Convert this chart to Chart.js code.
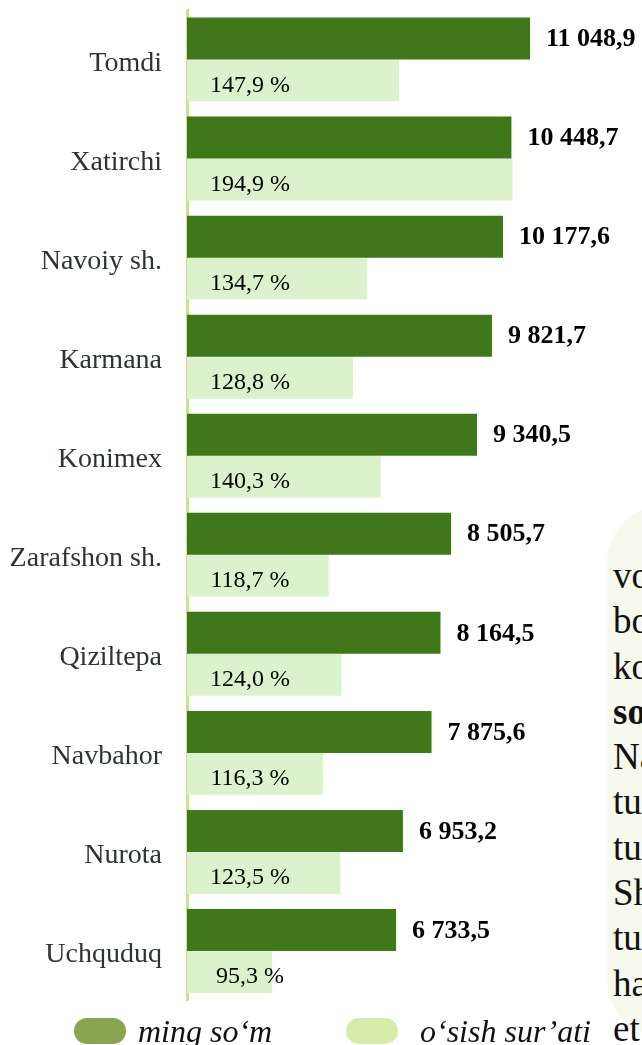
<!DOCTYPE html>
<html>
<head>
<meta charset="utf-8">
<script src="https://cdn.jsdelivr.net/npm/chart.js@4/dist/chart.umd.min.js"></script>
<style>
  html, body { margin: 0; padding: 0; background: #fff; overflow: hidden; }
  #wrap { position: relative; width: 642px; height: 1045px; }
  #chartBox { position: absolute; left: 0; top: 0; width: 642px; height: 1045px; }
  #legend { position: absolute; left: 0; top: 1018px; width: 642px; height: 30px;
    font-family: "Liberation Serif", "Times New Roman", serif; font-style: italic; font-size: 32px; color: #111; }
  #legend .pill { position: absolute; top: 0; width: 52px; height: 26px; border-radius: 13px; }
  #legend .txt { position: absolute; top: -7px; line-height: 40px; white-space: nowrap; }
  #side { position: absolute; left: 607px; top: 505px; width: 120px; height: 532px;
    background: #f6f9ec; border-radius: 58px; }
  #sideText { position: absolute; left: 613px; top: 553px; width: 100px;
    font-family: "Liberation Serif", "Times New Roman", serif; font-size: 37px; line-height: 45.3px; color: #111; }
</style>
</head>
<body>
<div id="wrap">
  <div id="side"></div>
  <div id="sideText">vo<br>bo<br>ko<br><b>so</b><br>Na<br>tu<br>tu<br>Sh<br>tu<br>ha<br>et</div>
  <div id="chartBox"><canvas id="barChart"></canvas></div>
  <div id="legend"></div>
</div>
<script>
const categories = ['Tomdi', 'Xatirchi', 'Navoiy sh.', 'Karmana', 'Konimex',
  'Zarafshon sh.', 'Qiziltepa', 'Navbahor', 'Nurota', 'Uchquduq'];
const mingSom = [11048.9, 10448.7, 10177.6, 9821.7, 9340.5, 8505.7, 8164.5, 7875.6, 6953.2, 6733.5];
const osishSurati = [147.9, 194.9, 134.7, 128.8, 140.3, 118.7, 124.0, 116.3, 123.5, 95.3];
const seriesNames = ['ming so‘m', 'o‘sish sur’ati'];

const darkGreen = '#40771a';
const lightGreen = '#dbf2cc';
const legendColors = ['#89a54f', '#d6ecaa'];

function fmt(v) {
  const parts = v.toFixed(1).split('.');
  const int = parts[0].replace(/\B(?=(\d{3})+(?!\d))/g, ' ');
  return int + ',' + parts[1];
}

const labelPlugin = {
  id: 'barLabels',
  afterDatasetsDraw(chart) {
    const ctx = chart.ctx;
    ctx.save();
    ctx.fillStyle = '#000';
    ctx.textBaseline = 'middle';

    const m0 = chart.getDatasetMeta(0);
    ctx.font = 'bold 26px "Liberation Serif"';
    ctx.textAlign = 'left';
    m0.data.forEach((bar, i) => {
      ctx.fillText(fmt(mingSom[i]), bar.x + 16, bar.y + 1);
    });

    const m1 = chart.getDatasetMeta(1);
    ctx.font = '24px "Liberation Serif"';
    ctx.textAlign = 'center';
    m1.data.forEach((bar, i) => {
      ctx.fillText(fmt(osishSurati[i]) + ' %', chart.chartArea.left + 63, bar.y + 5);
    });
    ctx.restore();
  }
};

let barChart;

function createChart() {
  const ctx = document.getElementById('barChart').getContext('2d');
  barChart = new Chart(ctx, {
    type: 'bar',
    data: {
      labels: categories,
      datasets: [{
        label: seriesNames[0],
        data: mingSom,
        backgroundColor: darkGreen,
        xAxisID: 'x'
      }, {
        label: seriesNames[1],
        data: osishSurati,
        backgroundColor: lightGreen,
        xAxisID: 'x2'
      }]
    },
    options: {
      indexAxis: 'y',
      responsive: true,
      maintainAspectRatio: false,
      animation: false,
      categoryPercentage: 0.848,
      barPercentage: 1,
      layout: { padding: { top: 10, right: 11, bottom: 44.5, left: 0 } },
      plugins: {
        legend: { display: false },
        tooltip: { enabled: false }
      },
      scales: {
        x: { display: false, min: 0, max: 14300 },
        x2: { display: false, min: 60, max: 244 },
        y: {
          grid: { display: false, drawTicks: false },
          border: { display: true, color: '#c8e38a', width: 3 },
          ticks: {
            padding: 25,
            labelOffset: 4,
            color: '#2d3436',
            font: { family: 'Liberation Serif', size: 28 }
          },
          afterFit(scale) {
            scale.width = 187;
            scale.paddingTop = 0;
            scale.paddingBottom = 0;
          }
        }
      }
    },
    plugins: [labelPlugin]
  });
}

function buildLegend() {
  const lg = document.getElementById('legend');
  const pillX = [74, 346];
  const textX = [138, 420];
  barChart.data.datasets.forEach((ds, i) => {
    const pill = document.createElement('div');
    pill.className = 'pill';
    pill.style.left = pillX[i] + 'px';
    pill.style.background = legendColors[i];
    lg.appendChild(pill);
    const t = document.createElement('div');
    t.className = 'txt';
    t.style.left = textX[i] + 'px';
    t.textContent = ds.label;
    lg.appendChild(t);
  });
}

document.addEventListener('DOMContentLoaded', () => {
  createChart();
  buildLegend();
});
</script>
</body>
</html>
